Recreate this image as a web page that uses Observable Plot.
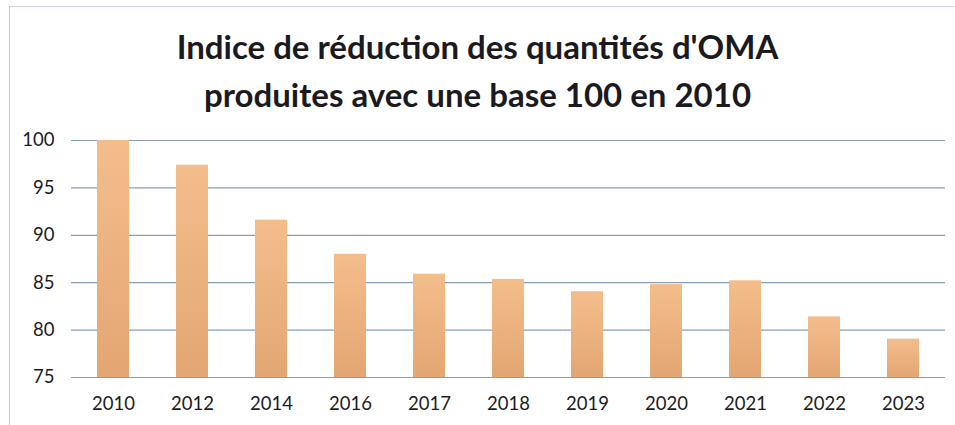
<!DOCTYPE html>
<html>
<head>
<meta charset="utf-8">
<script src="https://cdn.jsdelivr.net/npm/d3@7"></script>
<script src="https://cdn.jsdelivr.net/npm/@observablehq/plot@0.6"></script>
<style>
  html, body { margin: 0; padding: 0; background: #fff; }
  #wrap { position: relative; width: 955px; height: 425px; overflow: hidden; background: #fff; }
  #frame { position: absolute; left: 9px; top: 6px; width: 960px; height: 430px;
           border-left: 1px solid #c9c2d6; border-top: 1px solid #d6d2de; box-sizing: border-box; }
  #title { position: absolute; left: 0; top: 22px; width: 955px; text-align: center;
           font-family: Lato, "Open Sans", sans-serif; font-weight: bold; font-size: 33px;
           line-height: 48px; color: #1a1a20; }
  #chart { position: absolute; left: 0; top: 115px; }
</style>
</head>
<body>
<div id="wrap">
  <div id="frame"></div>
  <div id="title"><div>Indice de réduction des quantités d'OMA</div><div>produites avec une base 100 en 2010</div></div>
  <div id="chart"></div>
</div>
<script>
const years = ["2010","2012","2014","2016","2017","2018","2019","2020","2021","2022","2023"];
const values = [100, 97.4, 91.6, 88.0, 85.9, 85.35, 84.05, 84.8, 85.2, 81.4, 79.05];
const yTicks = [75, 80, 85, 90, 95, 100];

const data = years.map((year, i) => ({year, value: values[i]}));

const plot = Plot.plot({
  width: 955,
  height: 310,
  marginLeft: 71,
  marginRight: 10,
  marginTop: 25,
  marginBottom: 48,
  style: { fontFamily: "Lato, 'Open Sans', sans-serif", fontSize: "18.5px", color: "#1c1c22", background: "transparent" },
  x: { domain: years, paddingInner: 0.6, paddingOuter: 0.3, label: null },
  y: { domain: [75, 100], label: null },
  marks: [
    Plot.gridY(yTicks, { stroke: "#8a9cb6", strokeOpacity: 1, strokeWidth: 1.2 }),
    Plot.barY(data, { x: "year", y1: 75, y2: "value", fill: "url(#barGrad)" }),
    Plot.axisY(yTicks, { tickSize: 0, tickPadding: 17, label: null, fill: "#1c1c22" }),
    Plot.axisX({ tickSize: 0, tickPadding: 19, label: null, fill: "#1c1c22" })
  ]
});

const svg = d3.select(plot);
const defs = svg.insert("defs", ":first-child");
const grad = defs.append("linearGradient").attr("id", "barGrad")
  .attr("x1", 0).attr("y1", 0).attr("x2", 0).attr("y2", 1);
grad.append("stop").attr("offset", "0%").attr("stop-color", "#f3be8c");
grad.append("stop").attr("offset", "100%").attr("stop-color", "#e3a673");

document.getElementById("chart").appendChild(plot);
</script>
</body>
</html>
